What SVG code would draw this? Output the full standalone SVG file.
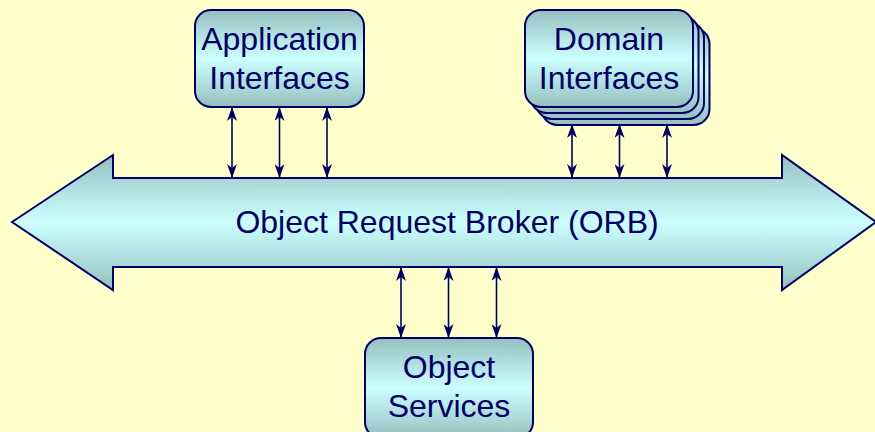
<svg xmlns="http://www.w3.org/2000/svg" width="875" height="432" viewBox="0 0 875 432">
  <defs>
    <linearGradient id="g" x1="0" y1="0" x2="0" y2="1">
      <stop offset="0" stop-color="#96bfbf"/>
      <stop offset="0.5" stop-color="#ccffff"/>
      <stop offset="1" stop-color="#96bfbf"/>
    </linearGradient>
    <marker id="ah" viewBox="0 0 14 10" refX="13" refY="5" markerWidth="14" markerHeight="10" markerUnits="userSpaceOnUse" orient="auto-start-reverse">
      <path d="M0,0 L14,5 L0,10 L4,5 z" fill="#000066"/>
    </marker>
    <style>
      .shape { fill: url(#g); stroke: #000066; stroke-width: 2; }
      .lbl { font-family: "Liberation Sans", Arial, sans-serif; font-size: 32px; fill: #000066; text-anchor: middle; }
      .con { stroke: #000066; stroke-width: 1.6; fill: none; marker-start: url(#ah); marker-end: url(#ah); }
    </style>
  </defs>
  <rect x="0" y="0" width="875" height="432" fill="#ffffcc"/>

  <g id="orb">
    <polygon class="shape" points="12,222 113,155 113,178 782,178 782,155 876,222 782,290 782,267 113,267 113,290"/>
    <text class="lbl" x="447" y="233">Object Request Broker (ORB)</text>
  </g>

  <g id="application-interfaces">
    <rect class="shape" x="195" y="10" width="169" height="97" rx="16"/>
    <text class="lbl" x="279.5" y="50">Application</text>
    <text class="lbl" x="279.5" y="89">Interfaces</text>
  </g>

  <g id="domain-interfaces">
    <rect class="shape" x="541.5" y="28" width="168" height="97" rx="16"/>
    <rect class="shape" x="536" y="22" width="168" height="97" rx="16"/>
    <rect class="shape" x="530.5" y="16" width="168" height="97" rx="16"/>
    <rect class="shape" x="525" y="10" width="168" height="97" rx="16"/>
    <text class="lbl" x="609" y="50">Domain</text>
    <text class="lbl" x="609" y="89">Interfaces</text>
  </g>

  <g id="object-services">
    <rect class="shape" x="365" y="338" width="168" height="100" rx="16"/>
    <text class="lbl" x="449" y="378">Object</text>
    <text class="lbl" x="449" y="417">Services</text>
  </g>

  <g id="connectors">
    <line class="con" x1="232" y1="108" x2="232" y2="177"/>
    <line class="con" x1="279.5" y1="108" x2="279.5" y2="177"/>
    <line class="con" x1="327" y1="108" x2="327" y2="177"/>
    <line class="con" x1="572" y1="125" x2="572" y2="177"/>
    <line class="con" x1="619.5" y1="125" x2="619.5" y2="177"/>
    <line class="con" x1="667" y1="125" x2="667" y2="177"/>
    <line class="con" x1="401" y1="268" x2="401" y2="337"/>
    <line class="con" x1="448.5" y1="268" x2="448.5" y2="337"/>
    <line class="con" x1="496.5" y1="268" x2="496.5" y2="337"/>
  </g>
</svg>
